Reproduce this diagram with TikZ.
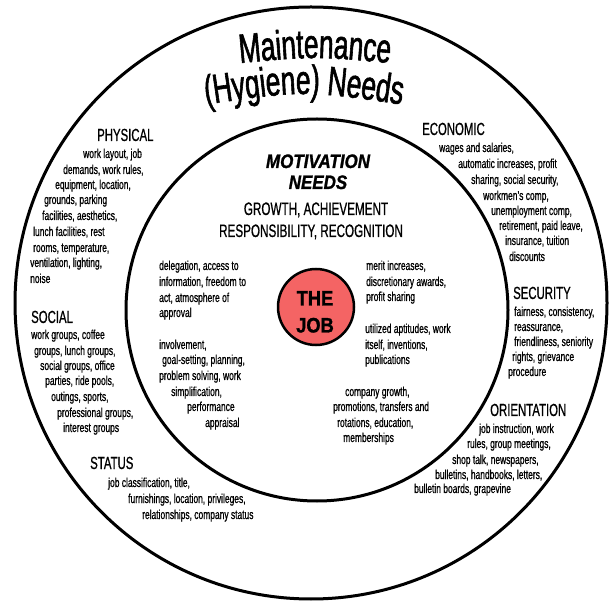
\documentclass[tikz,border=0pt]{standalone}
\usepackage{fontspec}
\setmainfont{Liberation Sans}[FakeStretch=0.65, FakeBold=0.7]
\newfontfamily\heavyfont{Liberation Sans}[FakeStretch=0.87, FakeBold=1.2]
\newfontfamily\titlefont{Liberation Sans}[FakeStretch=0.64, FakeBold=1.4]
\usetikzlibrary{decorations.text}
\definecolor{jobred}{RGB}{244,100,100}
\tikzset{
  ring/.style={circle, draw, line width=3pt, inner sep=0pt},
  body/.style={anchor=base west, inner sep=0pt, font=\fontsize{13}{15}\selectfont},
  head/.style={anchor=base west, inner sep=0pt, font=\fontsize{17.5}{19}\selectfont},
  motive/.style={anchor=base, inner sep=0pt, font=\heavyfont\bfseries\itshape\fontsize{19.5}{21}\selectfont},
  factor/.style={anchor=base, inner sep=0pt, font=\fontsize{18}{20}\selectfont},
  jobtext/.style={anchor=base, inner sep=0pt, font=\heavyfont\bfseries\fontsize{21}{23}\selectfont},
  arctitle/.style={decorate, decoration={text along path, text align=center,
    text={|\titlefont\fontsize{41}{43}\selectfont|#1}}}
}
\begin{document}
\begin{tikzpicture}[x=1pt,y=-1pt]
\useasboundingbox (0,0) rectangle (616,601);
\fill[white] (0,0) rectangle (616,601);

% rings
\node[ring, minimum size=592pt] (outer) at (311,303) {};
\node[ring, minimum size=382pt] (inner) at (317,310) {};
\node[circle, draw, line width=2.5pt, fill=jobred, minimum size=76pt, inner sep=0pt] (job) at (316,307) {};
\node[jobtext] (the) at (315,305.5) {THE};
\node[jobtext] (jobword) at (315,332.5) {JOB};

% curved title
\path[arctitle={Maintenance}] (230,64) .. controls (315,56) .. (400,64);
\path[arctitle={(Hygiene) Needs}] (196,106) .. controls (304,90) .. (412,106);

% motivation needs
\node[motive] (mot1) at (318,168) {MOTIVATION};
\node[motive] (mot2) at (318,189) {NEEDS};
\node[factor] (fac1) at (316,215) {GROWTH, ACHIEVEMENT};
\node[factor] (fac2) at (311,237) {RESPONSIBILITY, RECOGNITION};

% hygiene headings
\node[head] (physical) at (97,141) {PHYSICAL};
\node[head] (social) at (31,323) {SOCIAL};
\node[head] (status) at (90,469) {STATUS};
\node[head] (economic) at (422,135) {ECONOMIC};
\node[head] (security) at (513,299) {SECURITY};
\node[head] (orientation) at (490,416) {ORIENTATION};

% physical
\foreach \x/\y/\t [count=\i] in {
  83/158/{work layout, job},
  63/174/{demands, work rules,},
  55/189/{equipment, location,},
  44/204/{grounds, parking},
  42/220/{facilities, aesthetics,},
  33/236/{lunch facilities, rest},
  33/252/{rooms, temperature,},
  30/267/{ventilation, lighting,},
  30/283/{noise}}
  \node[body] (phys\i) at (\x,\y) {\t};

% social
\foreach \x/\y/\t [count=\i] in {
  31/339/{work groups, coffee},
  34/355/{groups, lunch groups,},
  40/370/{social groups, office},
  45/385/{parties, ride pools,},
  51/401/{outings, sports,},
  57/417/{professional groups,},
  63/432/{interest groups}}
  \node[body] (soc\i) at (\x,\y) {\t};

% status
\foreach \x/\y/\t [count=\i] in {
  108/487/{job classification, title,},
  128/503/{furnishings, location, privileges,},
  142/519/{relationships, company status}}
  \node[body] (stat\i) at (\x,\y) {\t};

% economic
\foreach \x/\y/\t [count=\i] in {
  439/152/{wages and salaries,},
  458/168/{automatic increases, profit},
  471/184/{sharing, social security,},
  483/200/{workmen’s comp,},
  491/215/{unemployment comp,},
  499/230/{retirement, paid leave,},
  505/245/{insurance, tuition},
  509/261/{discounts}}
  \node[body] (econ\i) at (\x,\y) {\t};

% security
\foreach \x/\y/\t [count=\i] in {
  514/316/{fairness, consistency,},
  514/331/{reassurance,},
  514/346/{friendliness, seniority},
  512/361/{rights, grievance},
  508/376/{procedure}}
  \node[body] (sec\i) at (\x,\y) {\t};

% orientation
\foreach \x/\y/\t [count=\i] in {
  479/433/{job instruction, work},
  467/448/{rules, group meetings,},
  452/464/{shop talk, newspapers,},
  435/479/{bulletins, handbooks, letters,},
  414/493/{bulletin boards, grapevine}}
  \node[body] (ori\i) at (\x,\y) {\t};

% motivators, left side
\foreach \x/\y/\t [count=\i] in {
  159/270/{delegation, access to},
  159/286/{information, freedom to},
  159/302/{act, atmosphere of},
  159/317/{approval},
  159/349/{involvement,},
  162/364/{goal-setting, planning,},
  159/380/{problem solving, work},
  171/396/{simplification,},
  187/411/{performance},
  205/427/{appraisal}}
  \node[body] (ml\i) at (\x,\y) {\t};

% motivators, right side
\foreach \x/\y/\t [count=\i] in {
  366/270/{merit increases,},
  366/286/{discretionary awards,},
  366/301/{profit sharing},
  365/333/{utilized aptitudes, work},
  365/349/{itself, inventions,},
  365/364/{publications},
  345/396/{company growth,},
  333/411/{promotions, transfers and},
  337/427/{rotations, education,},
  343/442/{memberships}}
  \node[body] (mr\i) at (\x,\y) {\t};
\end{tikzpicture}
\end{document}
